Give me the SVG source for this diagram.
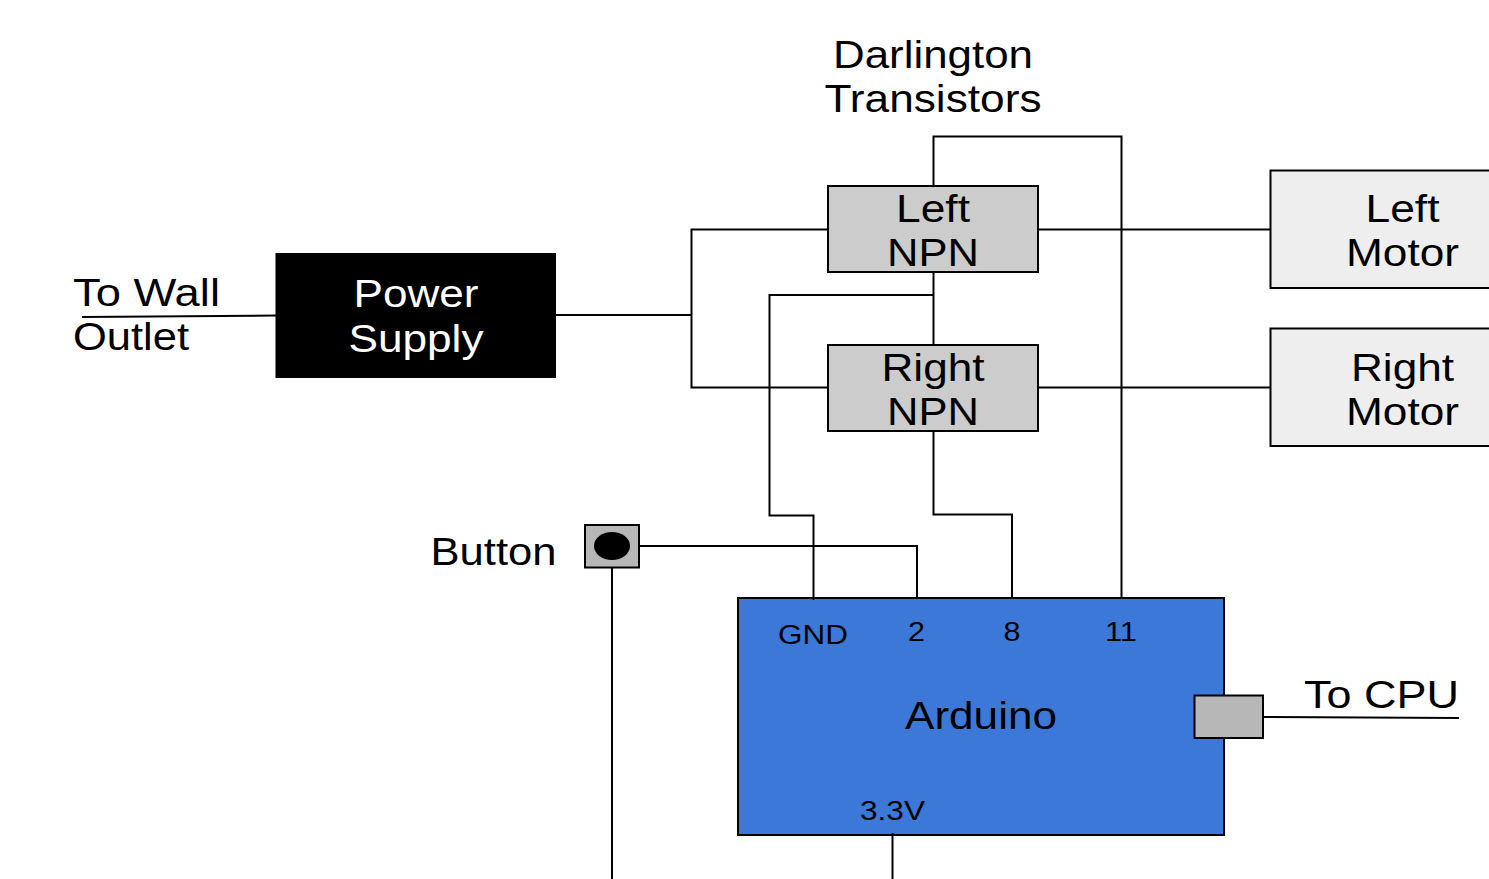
<svg xmlns="http://www.w3.org/2000/svg" width="1489" height="879" viewBox="0 0 1489 879">
<style>
text{font-family:"Liberation Sans",Arial,sans-serif;font-size:38px;text-anchor:middle;fill:#000}
.s{font-size:27px}
.b{stroke:#000;stroke-width:2}
.c path{fill:none;stroke:#000;stroke-width:2}
</style>
<rect width="1489" height="879" fill="#fff"/>
<g id="power-supply"><rect x="275.500" y="253" width="280.500" height="125" fill="#000"/><text x="416" y="306.500" textLength="125" lengthAdjust="spacingAndGlyphs" style="fill:#fff">Power</text><text x="416" y="351.500" textLength="135" lengthAdjust="spacingAndGlyphs" style="fill:#fff">Supply</text></g>
<g id="left-npn"><rect class="b" x="828" y="186" width="210" height="86" fill="#ccc"/><text x="933" y="221.500" textLength="74" lengthAdjust="spacingAndGlyphs">Left</text><text x="933" y="265.500" textLength="92" lengthAdjust="spacingAndGlyphs">NPN</text></g>
<g id="right-npn"><rect class="b" x="828" y="345" width="210" height="86" fill="#ccc"/><text x="933" y="380.500" textLength="103" lengthAdjust="spacingAndGlyphs">Right</text><text x="933" y="424.500" textLength="92" lengthAdjust="spacingAndGlyphs">NPN</text></g>
<g id="left-motor"><rect class="b" x="1270.500" y="170.500" width="220" height="117.500" fill="#eee"/><text x="1402.500" y="221.500" textLength="74" lengthAdjust="spacingAndGlyphs">Left</text><text x="1402.500" y="265.500" textLength="113" lengthAdjust="spacingAndGlyphs">Motor</text></g>
<g id="right-motor"><rect class="b" x="1270.500" y="328.500" width="220" height="117.500" fill="#eee"/><text x="1402.500" y="380.500" textLength="103" lengthAdjust="spacingAndGlyphs">Right</text><text x="1402.500" y="424.500" textLength="113" lengthAdjust="spacingAndGlyphs">Motor</text></g>
<g id="button"><rect class="b" x="585" y="525" width="54" height="42.500" fill="#b7b7b7"/><ellipse cx="612" cy="546" rx="18" ry="14" fill="#000"/><text x="493.500" y="564.500" textLength="126" lengthAdjust="spacingAndGlyphs">Button</text></g>
<g id="arduino"><rect class="b" x="738" y="598" width="486" height="237" fill="#3c78d8"/>
<text class="s" x="813" y="643.500" textLength="70" lengthAdjust="spacingAndGlyphs">GND</text><text class="s" x="916.500" y="641" textLength="17" lengthAdjust="spacingAndGlyphs">2</text><text class="s" x="1012" y="641" textLength="17" lengthAdjust="spacingAndGlyphs">8</text><text class="s" x="1121" y="641" textLength="32" lengthAdjust="spacingAndGlyphs">11</text>
<text x="981" y="728.500" textLength="152" lengthAdjust="spacingAndGlyphs">Arduino</text><text class="s" x="892.500" y="820" textLength="65" lengthAdjust="spacingAndGlyphs">3.3V</text></g>
<g id="usb"><rect class="b" x="1194.500" y="695.500" width="68.500" height="42.500" fill="#b7b7b7"/></g>
<g id="labels">
<text x="933" y="67.500" textLength="200" lengthAdjust="spacingAndGlyphs">Darlington</text><text x="933" y="111.500" textLength="217" lengthAdjust="spacingAndGlyphs">Transistors</text>
<text x="146.500" y="305.500" textLength="147" lengthAdjust="spacingAndGlyphs">To Wall</text><text x="131" y="349.500" textLength="116" lengthAdjust="spacingAndGlyphs">Outlet</text>
<text x="1381.500" y="707.500" textLength="155" lengthAdjust="spacingAndGlyphs">To CPU</text></g>
<g class="c" id="connectors">
<path d="M82 317L276 315.500"/>
<path d="M556 315H691.500"/>
<path d="M828 229.500H691.500V387.500H828"/>
<path d="M1038 229.500H1271"/>
<path d="M1038 387.500H1271"/>
<path d="M933.500 186V136.500H1121.500V598"/>
<path d="M933.500 272V345"/>
<path d="M933.500 295H769.500V515.500H813.500V600"/>
<path d="M933.500 431V514.500H1012V598"/>
<path d="M639 546H917V598"/>
<path d="M612 568V879"/>
<path d="M892.500 833V879"/>
<path d="M1263 717L1459 718"/>
</g>
</svg>
